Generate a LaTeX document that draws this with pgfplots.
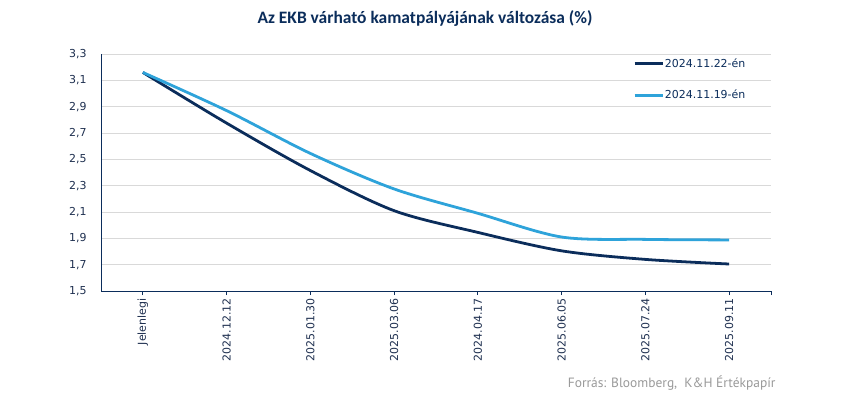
\documentclass[border=0pt]{standalone}
\usepackage{fontspec}
\setmainfont{DejaVu Sans}
\newfontfamily\titlefont{Carlito}
\newfontfamily\srcfont{PT Sans}
\usepackage{pgfplots}
\pgfplotsset{compat=1.18}
\definecolor{navy}{HTML}{0B2D5B}
\definecolor{lblue}{HTML}{2EA3DA}
\definecolor{gridc}{HTML}{D9D9D9}
\definecolor{txt}{HTML}{1F3050}
\definecolor{srcgray}{HTML}{9A9A9A}
\begin{document}
\begin{tikzpicture}
\useasboundingbox[fill=white] (0bp,0bp) rectangle (850bp,-395bp);
\node[font=\titlefont\bfseries\fontsize{17.5}{20}\selectfont, text=navy] at (425bp,-19bp) {Az EKB várható kamatpályájának változása (\%)};
\begin{axis}[
  at={(101bp,-291bp)}, anchor=south west, scale only axis,
  width=670bp, height=237bp,
  xmin=-0.5, xmax=7.5, ymin=1.5, ymax=3.3,
  axis x line*=bottom, axis y line*=left,
  axis line style={navy, line width=1pt, -},
  xtick={0,1,2,3,4,5,6,7},
  xticklabels={Jelenlegi,2024.12.12,2025.01.30,2025.03.06,2024.04.17,2025.06.05,2025.07.24,2025.09.11},
  extra x ticks={7.5}, extra x tick labels={},
  extra x tick style={grid=none},
  ytick={1.5,1.7,1.9,2.1,2.3,2.5,2.7,2.9,3.1,3.3},
  ymajorgrids, grid style={gridc, line width=0.8pt},
  tick align=outside, xtick pos=bottom,
  major tick length=4bp,
  xtick style={navy, line width=0.8pt},
  ytick style={draw=none},
  x tick label style={rotate=90, anchor=east, font=\fontsize{11}{13}\selectfont, text=txt},
  y tick label style={font=\fontsize{11}{13}\selectfont, text=txt, xshift=-7bp},
  yticklabel style={/pgf/number format/.cd, fixed, fixed zerofill, precision=1, use comma, assume math mode=true},
  legend style={at={(0.794,0.985)}, anchor=north west, draw=none, fill=none,
    font=\fontsize{11}{13}\selectfont, text=navy, row sep=19bp, inner sep=0pt,
    nodes={inner sep=1pt}},
  legend cell align=left,
  legend image code/.code={\draw[#1] (0bp,0bp) -- (28bp,0bp);},
]
\addplot[navy, line width=2.8pt, smooth] coordinates {
(0,3.16) (1,2.775) (2,2.415) (3,2.11) (4,1.945) (5,1.805) (6,1.74) (7,1.705)};
\addlegendentry{2024.11.22-én}
\addplot[lblue, line width=2.8pt, smooth] coordinates {
(0,3.16) (1,2.87) (2,2.545) (3,2.275) (4,2.09) (5,1.91) (6,1.892) (7,1.888)};
\addlegendentry{2024.11.19-én}
\end{axis}
\node[anchor=east, font=\srcfont\fontsize{13.5}{15}\selectfont, text=srcgray] at (779bp,-383bp) {Forrás: Bloomberg,\ \ K\&H Értékpapír};
\end{tikzpicture}
\end{document}
